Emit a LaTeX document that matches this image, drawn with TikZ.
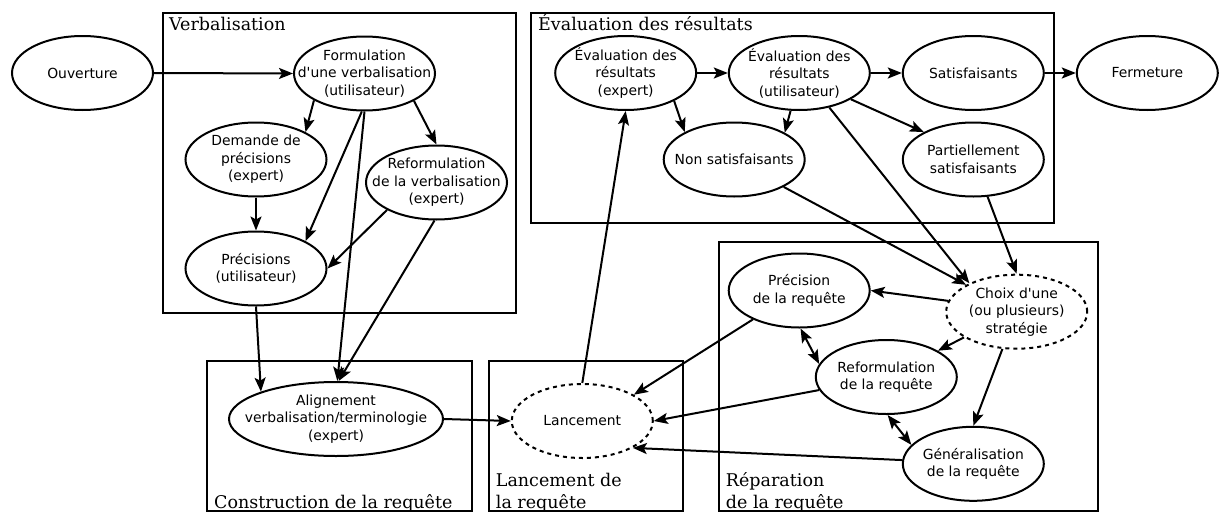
\documentclass[tikz,border=0pt]{standalone}
\usepackage{fontspec}
\setmainfont{DejaVu Sans}
\newfontfamily\clfont{DejaVu Serif}
\usetikzlibrary{shapes.geometric,arrows.meta}
\tikzset{
  ell/.style={draw, ellipse, line width=2pt, minimum width=141pt, minimum height=74pt, inner sep=0pt},
  dashell/.style={ell, dash pattern=on 4pt off 4pt},
  txt/.style={align=center, inner sep=0pt, font=\fontsize{13.9}{17.5}\selectfont},
  tip/.style={Stealth[length=14pt,width=11pt,inset=3pt]},
  edge/.style={line width=2pt, -{Stealth[length=14pt,width=11pt,inset=3pt]}},
  dedge/.style={line width=2pt, {Stealth[length=14pt,width=11pt,inset=3pt]}-{Stealth[length=14pt,width=11pt,inset=3pt]}},
  cluster/.style={draw, line width=2pt},
  cltxt/.style={anchor=base west, inner sep=0pt, font=\clfont\fontsize{17.5}{22}\selectfont}
}
\begin{document}
\begin{tikzpicture}[x=1pt,y=-1pt]
\useasboundingbox (0,0) rectangle (1220,514);
% clusters
\draw[cluster] (163,13) rectangle (516,313);
\draw[cluster] (531,13.3) rectangle (1054,222.7);
\draw[cluster] (206.7,361) rectangle (472,511);
\draw[cluster] (489,361) rectangle (682.7,511);
\draw[cluster] (719,241.7) rectangle (1098.3,511);
\node[cltxt] (lv) at (169,30.5) {Verbalisation};
\node[cltxt] (le) at (538,30.5) {Évaluation des résultats};
\node[cltxt] (lc) at (214,508) {Construction de la requête};
\node[cltxt] (ll1) at (495.7,486.5) {Lancement de};
\node[cltxt] (ll2) at (495.7,508.5) {la requête};
\node[cltxt] (lr1) at (725.7,486.5) {Réparation};
\node[cltxt] (lr2) at (725.7,508.5) {de la requête};
% nodes
\node[ell, label={[txt]center:Ouverture}] (ouv) at (82.5,73) {};
\node[ell, label={[txt]center:Formulation\\d\textquotesingle une verbalisation\\(utilisateur)}] (form) at (364.5,73.5) {};
\node[ell, label={[txt]center:Demande de\\précisions\\(expert)}] (dem) at (256,159.5) {};
\node[ell, label={[txt]center:Reformulation\\de la verbalisation\\(expert)}] (refv) at (436.5,182.5) {};
\node[ell, label={[txt]center:Précisions\\(utilisateur)}] (prec) at (256,268.5) {};
\node[ell, minimum width=214pt, label={[txt]center:Alignement\\verbalisation/terminologie\\(expert)}] (align) at (336,419) {};
\node[dashell, label={[txt]center:Lancement}] (lanc) at (582.3,421) {};
\node[ell, label={[txt]center:Évaluation des\\résultats\\(expert)}] (evx) at (625.7,73) {};
\node[ell, label={[txt]center:Évaluation des\\résultats\\(utilisateur)}] (evu) at (799.3,73) {};
\node[ell, label={[txt]center:Satisfaisants}] (sat) at (973.3,73) {};
\node[ell, label={[txt]center:Fermeture}] (ferm) at (1147.3,73) {};
\node[ell, label={[txt]center:Non satisfaisants}] (nons) at (734.2,159.5) {};
\node[ell, label={[txt]center:Partiellement\\satisfaisants}] (part) at (973.3,159.5) {};
\node[ell, label={[txt]center:Précision\\de la requête}] (precr) at (799.2,290.5) {};
\node[dashell, label={[txt]center:Choix d\textquotesingle une\\(ou plusieurs)\\stratégie}] (choix) at (1016.7,311.7) {};
\node[ell, label={[txt]center:Reformulation\\de la requête}] (refr) at (886.3,377) {};
\node[ell, label={[txt]center:Généralisation\\de la requête}] (gen) at (973.3,463.8) {};
% edges
\draw[edge] (ouv.east) -- (form.west);
\draw[edge] (form.208.7) -- (dem.29.2);
\draw[edge] (form.266.3) -- (prec.29.3);
\draw[edge] (form.270.7) -- (align.88.5);
\draw[edge] (form.331.3) -- (refv.90.7);
\draw[edge] (dem.south) -- (prec.north);
\draw[edge] (refv.209.2) -- (prec.0.4);
\draw[edge] (refv.267.8) -- (align.86);
\draw[edge] (prec.south) -- (align.160.2);
\draw[edge] (align.east) -- (lanc.west);
\draw[edge] (lanc.north) -- (evx.south);
\draw[edge] (evx.east) -- (evu.west);
\draw[edge] (evx.330.3) -- (nons.151.4);
\draw[edge] (evu.257.5) -- (nons.28.7);
\draw[edge] (evu.east) -- (sat.west);
\draw[edge] (evu.333.4) -- (part.151.7);
\draw[edge] (evu.311.3) -- (choix.149.9);
\draw[edge] (sat.east) -- (ferm.west);
\draw[edge] (nons.331.3) -- (choix.152);
\draw[edge] (part.291.6) -- (choix.north);
\draw[edge] (choix.171.3) -- (precr.east);
\draw[edge] (choix.206) -- (refr.27);
\draw[edge] (choix.249) -- (gen.north);
\draw[dedge] (precr.272) -- (refr.169.2);
\draw[dedge] (refr.272.6) -- (gen.163.7);
\draw[edge] (precr.212.7) -- (lanc.27.7);
\draw[edge] (refr.191.2) -- (lanc.east);
\draw[edge] (gen.177) -- (lanc.332.2);
\end{tikzpicture}
\end{document}
